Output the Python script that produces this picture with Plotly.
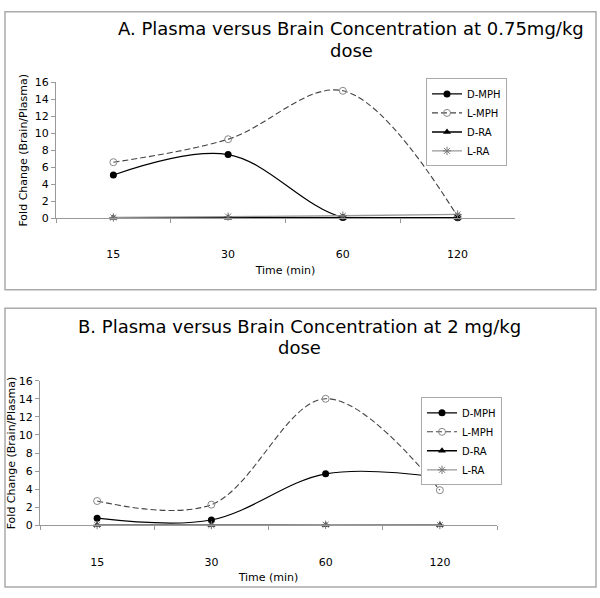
import plotly.graph_objects as go

times = ["15", "30", "60", "120"]

# Panel A (0.75 mg/kg)
a_d_mph = [5.1, 7.5, 0.1, 0.05]
a_l_mph = [6.6, 9.3, 15.0, 0.2]
a_d_ra = [0.05, 0.05, 0.05, 0.05]
a_l_ra = [0.1, 0.2, 0.3, 0.45]

# Panel B (2 mg/kg)
b_d_mph = [0.8, 0.6, 5.7, 5.3]
b_l_mph = [2.7, 2.3, 14.0, 3.9]
b_d_ra = [0.05, 0.05, 0.05, 0.05]
b_l_ra = [0.05, 0.05, 0.08, 0.05]

names = ["D-MPH", "L-MPH", "D-RA", "L-RA"]
title_a = ["A. Plasma versus Brain Concentration at 0.75mg/kg", "dose"]
title_b = ["B. Plasma versus Brain Concentration at 2 mg/kg", "dose"]

FONT = "DejaVu Sans"
W, H = 600, 598

styles = [
    dict(line=dict(color="black", width=1.2, shape="spline", smoothing=1.0),
         marker=dict(symbol="circle", size=7, color="black")),
    dict(line=dict(color="#444", width=1.1, dash="6px,3px", shape="spline", smoothing=1.0),
         marker=dict(symbol="circle-open", size=7, color="#888", line=dict(width=1))),
    dict(line=dict(color="black", width=1.5, shape="spline", smoothing=1.0),
         marker=dict(symbol="triangle-up", size=7, color="black")),
    dict(line=dict(color="#999", width=1.3, shape="spline", smoothing=1.0),
         marker=dict(symbol="asterisk-open", size=7, color="#777", line=dict(width=1, color="#777"))),
]

fig = go.Figure()
for i, (name, ys) in enumerate(zip(names, [a_d_mph, a_l_mph, a_d_ra, a_l_ra])):
    fig.add_trace(go.Scatter(x=times, y=ys, name=name, mode="lines+markers",
                             xaxis="x", yaxis="y", legend="legend", cliponaxis=False,
                             **styles[i]))
for i, (name, ys) in enumerate(zip(names, [b_d_mph, b_l_mph, b_d_ra, b_l_ra])):
    fig.add_trace(go.Scatter(x=times, y=ys, name=name, mode="lines+markers",
                             xaxis="x2", yaxis="y2", legend="legend2", cliponaxis=False,
                             **styles[i]))

def px(x):
    return x / W

def py(y):
    return 1 - y / H

axis_common = dict(showgrid=False, zeroline=False, showline=True, linecolor="#999",
                   linewidth=1, ticks="outside", ticklen=4, tickcolor="#999",
                   tickfont=dict(family=FONT, size=11, color="black"))

def title_ann(text, x, y):
    return dict(text=text, x=px(x), y=py(y), xref="paper", yref="paper",
                xanchor="center", yanchor="middle", showarrow=False,
                font=dict(family=FONT, size=18, color="black"))

fig.update_layout(
    width=W, height=H,
    margin=dict(l=0, r=0, t=0, b=0),
    paper_bgcolor="white", plot_bgcolor="rgba(0,0,0,0)",
    font=dict(family=FONT, color="black"),
    xaxis=dict(domain=[px(56), px(515)], anchor="y", type="category",
               range=[-0.5, 3.5], tickson="boundaries", ticklabelstandoff=26,
               title=dict(text="Time (min)", font=dict(family=FONT, size=11), standoff=5),
               **axis_common),
    yaxis=dict(domain=[py(217), py(78)], anchor="x", range=[0, 16], dtick=2,
               title=dict(text="Fold Change (Brain/Plasma)", font=dict(family=FONT, size=11), standoff=4),
               **axis_common),
    xaxis2=dict(domain=[px(40), px(497)], anchor="y2", type="category",
                range=[-0.5, 3.5], tickson="boundaries", ticklabelstandoff=26,
                title=dict(text="Time (min)", font=dict(family=FONT, size=11), standoff=5),
                **axis_common),
    yaxis2=dict(domain=[py(531), py(383)], anchor="x2", range=[0, 16], dtick=2,
                title=dict(text="Fold Change (Brain/Plasma)", font=dict(family=FONT, size=11), standoff=0),
                **axis_common),
    legend=dict(x=px(426), y=py(74), xanchor="left", yanchor="top",
                bgcolor="white", bordercolor="#aaa", borderwidth=1,
                font=dict(family=FONT, size=10), itemwidth=30, tracegroupgap=0),
    legend2=dict(x=px(421), y=py(400), xanchor="left", yanchor="top",
                 bgcolor="white", bordercolor="#aaa", borderwidth=1,
                 font=dict(family=FONT, size=10), itemwidth=30, tracegroupgap=0),
    annotations=[
        title_ann(title_a[0], 351, 23),
        title_ann(title_a[1], 351, 45),
        title_ann(title_b[0], 299, 328),
        title_ann(title_b[1], 299, 349),
    ],
    shapes=[
        dict(type="rect", xref="paper", yref="paper", x0=px(5), x1=px(596),
             y0=py(290), y1=py(6), line=dict(color="#aaa", width=1.5)),
        dict(type="rect", xref="paper", yref="paper", x0=px(5), x1=px(596),
             y0=py(594), y1=py(309), line=dict(color="#aaa", width=1.5)),
    ],
)

fig.write_html("out.html", config={"displayModeBar": False},
               post_script="document.body.style.margin='0';")
